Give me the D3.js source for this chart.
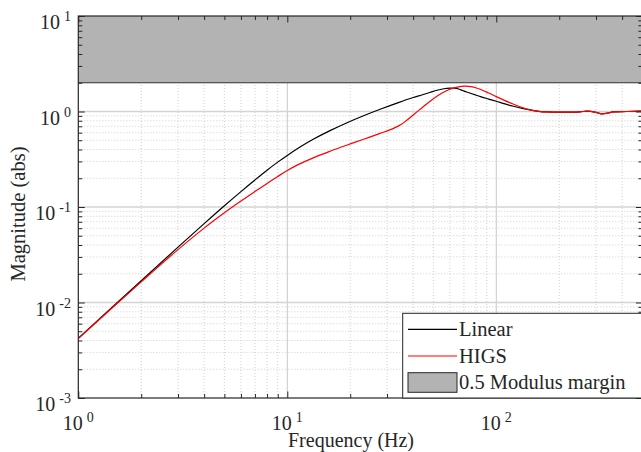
<!DOCTYPE html>
<html>
<head>
<meta charset="utf-8">
<script src="https://cdn.jsdelivr.net/npm/d3@7"></script>
<style>
  body { margin: 0; background: #fff; }
  svg { display: block; }
  svg text { font-family: "Liberation Serif", "Times New Roman", serif; fill: #262626; }
</style>
</head>
<body>
<div id="chart"></div>
<script>
// Values
const linearFreq = [1, 2, 3, 4, 5, 6, 7, 8, 9, 10, 11.5, 13.3, 16, 19.2, 23, 27.8, 34, 40, 44, 48, 52, 56, 60, 63, 66, 69, 72, 78, 84, 92, 100, 110, 121, 133, 145, 160, 174, 220, 251, 271, 300, 319, 340, 363, 420, 500];
const linearMag  = [0.00423, 0.0169, 0.038, 0.0669, 0.103, 0.145, 0.192, 0.243, 0.295, 0.347, 0.424, 0.511, 0.63, 0.759, 0.897, 1.056, 1.24, 1.40, 1.49, 1.58, 1.67, 1.73, 1.76, 1.755, 1.72, 1.66, 1.60, 1.51, 1.43, 1.35, 1.28, 1.20, 1.135, 1.08, 1.04, 1.005, 0.99, 0.985, 0.99, 1.01, 0.98, 0.945, 0.96, 0.99, 1.0, 1.01];

const higsFreq = [1, 2, 3, 4, 5, 6, 7, 8, 9, 10, 11.2, 13.3, 16, 19.2, 23, 27.8, 32.2, 35, 37.3, 40, 44, 48.2, 55, 60, 65, 70.8, 77, 83.6, 92, 100, 110, 121, 133, 145, 160, 174, 220, 251, 271, 300, 319, 340, 363, 420, 500];
const higsMag  = [0.0042, 0.01644, 0.0358, 0.0601, 0.0869, 0.1153, 0.1452, 0.1767, 0.2088, 0.241, 0.276, 0.327, 0.383, 0.443, 0.509, 0.59, 0.665, 0.73, 0.81, 0.92, 1.09, 1.28, 1.56, 1.71, 1.80, 1.845, 1.81, 1.71, 1.56, 1.43, 1.30, 1.19, 1.10, 1.04, 1.005, 0.99, 0.985, 0.99, 1.01, 0.98, 0.945, 0.96, 0.99, 1.0, 1.01];

// modulus margin 0.5 -> forbidden region |S| > 2
const marginBand = [2, 10];

const xTicks = [1, 10, 100];
const yTicks = [1e-3, 1e-2, 1e-1, 1e0, 1e1];

const legendLabels = ["Linear", "HIGS", "0.5 Modulus margin"];

// Layout
const W = 641, H = 452;
const mLeft = 78.3, mRight = 642.4, mTop = 16, mBottom = 398;

const svg = d3.select("#chart")
  .append("svg")
    .attr("width", W)
    .attr("height", H);

const x = d3.scaleLog().domain([1, 500]).range([mLeft, mRight]);
const y = d3.scaleLog().domain([1e-3, 10]).range([mBottom, mTop]);

// minor tick values (2..9 of each decade)
const xMinor = [];
[1, 10, 100].forEach(d => d3.range(2, 10).forEach(k => { if (k * d < 500) xMinor.push(k * d); }));
const yMinor = [];
[1e-3, 1e-2, 1e-1, 1].forEach(d => d3.range(2, 10).forEach(k => yMinor.push(k * d)));

svg.append("clipPath").attr("id", "plot")
  .append("rect")
    .attr("x", mLeft).attr("y", mTop)
    .attr("width", mRight - mLeft).attr("height", mBottom - mTop);

// Grid
const grid = svg.append("g");
grid.selectAll(".xminor").data(xMinor).enter().append("line")
  .attr("x1", d => x(d)).attr("x2", d => x(d))
  .attr("y1", mTop).attr("y2", mBottom)
  .attr("stroke", "#cfcfcf").attr("stroke-dasharray", "1,2");
grid.selectAll(".yminor").data(yMinor).enter().append("line")
  .attr("y1", d => y(d)).attr("y2", d => y(d))
  .attr("x1", mLeft).attr("x2", mRight)
  .attr("stroke", "#cfcfcf").attr("stroke-dasharray", "1,2");
grid.selectAll(".xmajor").data(xTicks.slice(1)).enter().append("line")
  .attr("x1", d => x(d)).attr("x2", d => x(d))
  .attr("y1", mTop).attr("y2", mBottom)
  .attr("stroke", "#c8c8c8");
grid.selectAll(".ymajor").data(yTicks.slice(1, -1)).enter().append("line")
  .attr("y1", d => y(d)).attr("y2", d => y(d))
  .attr("x1", mLeft).attr("x2", mRight)
  .attr("stroke", "#d4d4d4").attr("stroke-width", 1.5);

// Modulus margin band
svg.append("rect")
  .attr("x", mLeft)
  .attr("y", y(marginBand[1]))
  .attr("width", mRight - mLeft)
  .attr("height", y(marginBand[0]) - y(marginBand[1]))
  .attr("fill", "#b3b3b3");
svg.append("line")
  .attr("x1", mLeft).attr("x2", mRight)
  .attr("y1", y(marginBand[0])).attr("y2", y(marginBand[0]))
  .attr("stroke", "#333").attr("stroke-width", 1.2);

// Curves
const line = d3.line()
  .x(d => x(d[0]))
  .y(d => y(d[1]))
  .curve(d3.curveCatmullRom.alpha(0.5));

svg.append("path")
  .datum(d3.zip(linearFreq, linearMag))
  .attr("clip-path", "url(#plot)")
  .attr("fill", "none").attr("stroke", "#000").attr("stroke-width", 1.2)
  .attr("d", line);
svg.append("path")
  .datum(d3.zip(higsFreq, higsMag))
  .attr("clip-path", "url(#plot)")
  .attr("fill", "none").attr("stroke", "#ff0000").attr("stroke-width", 1.2)
  .attr("d", line);

// Axes: inward ticks on all four sides
function styleAxis(g) {
  g.select(".domain").remove();
  g.selectAll(".tick line").attr("stroke", "#262626");
  g.selectAll(".tick text").remove();
}
svg.append("g").attr("transform", `translate(0,${mBottom})`)
  .call(d3.axisBottom(x).tickValues(xMinor).tickSize(-4)).call(styleAxis);
svg.append("g").attr("transform", `translate(0,${mBottom})`)
  .call(d3.axisBottom(x).tickValues(xTicks).tickSize(-6.5)).call(styleAxis);
svg.append("g").attr("transform", `translate(0,${mTop})`)
  .call(d3.axisTop(x).tickValues(xMinor).tickSize(-4)).call(styleAxis);
svg.append("g").attr("transform", `translate(0,${mTop})`)
  .call(d3.axisTop(x).tickValues(xTicks).tickSize(-6.5)).call(styleAxis);
svg.append("g").attr("transform", `translate(${mLeft},0)`)
  .call(d3.axisLeft(y).tickValues(yMinor).tickSize(-4)).call(styleAxis);
svg.append("g").attr("transform", `translate(${mLeft},0)`)
  .call(d3.axisLeft(y).tickValues(yTicks).tickSize(-6.5)).call(styleAxis);
svg.append("g").attr("transform", `translate(${mRight},0)`)
  .call(d3.axisRight(y).tickValues(yMinor).tickSize(-4)).call(styleAxis);
svg.append("g").attr("transform", `translate(${mRight},0)`)
  .call(d3.axisRight(y).tickValues(yTicks).tickSize(-6.5)).call(styleAxis);

// Box
svg.append("rect")
  .attr("x", mLeft).attr("y", mTop)
  .attr("width", mRight - mLeft).attr("height", mBottom - mTop)
  .attr("fill", "none").attr("stroke", "#262626").attr("stroke-width", 1.2);

// Tick labels with superscript exponents
function powLabel(sel, v) {
  sel.append("tspan").text("10");
  sel.append("tspan")
    .attr("dx", 4).attr("dy", -8)
    .attr("font-size", 14)
    .text(Math.round(Math.log10(v)));
}
svg.selectAll(".xlab").data(xTicks).enter().append("text")
  .attr("x", d => x(d)).attr("y", 430)
  .attr("text-anchor", "middle").attr("font-size", 20)
  .each(function(d) { powLabel(d3.select(this), d); });
svg.selectAll(".ylab").data(yTicks).enter().append("text")
  .attr("x", 71).attr("y", d => y(d) + 13)
  .attr("text-anchor", "end").attr("font-size", 20)
  .each(function(d) { powLabel(d3.select(this), d); });

// Axis titles
svg.append("text")
  .attr("x", 351).attr("y", 446.5)
  .attr("text-anchor", "middle").attr("font-size", 20)
  .text("Frequency (Hz)");
svg.append("text")
  .attr("transform", "translate(25,214) rotate(-90)")
  .attr("text-anchor", "middle").attr("font-size", 20.5)
  .text("Magnitude (abs)");

// Legend
const lg = svg.append("g");
lg.append("rect")
  .attr("x", 402.7).attr("y", 313.3)
  .attr("width", 260).attr("height", mBottom - 313.3)
  .attr("fill", "#fff").attr("stroke", "#262626").attr("stroke-width", 1);
lg.append("line").attr("x1", 408).attr("x2", 457).attr("y1", 329.3).attr("y2", 329.3)
  .attr("stroke", "#000").attr("stroke-width", 1.2);
lg.append("line").attr("x1", 408).attr("x2", 457).attr("y1", 356).attr("y2", 356)
  .attr("stroke", "#ff0000").attr("stroke-width", 1.2);
lg.append("rect").attr("x", 408).attr("y", 372.7).attr("width", 49).attr("height", 19.6)
  .attr("fill", "#b3b3b3").attr("stroke", "#262626").attr("stroke-width", 1);
lg.selectAll(".ltext").data(legendLabels).enter().append("text")
  .attr("x", 459)
  .attr("y", (d, i) => [329.3, 356, 382.5][i] + 6.5)
  .attr("font-size", 20.5)
  .text(d => d);
</script>
</body>
</html>
